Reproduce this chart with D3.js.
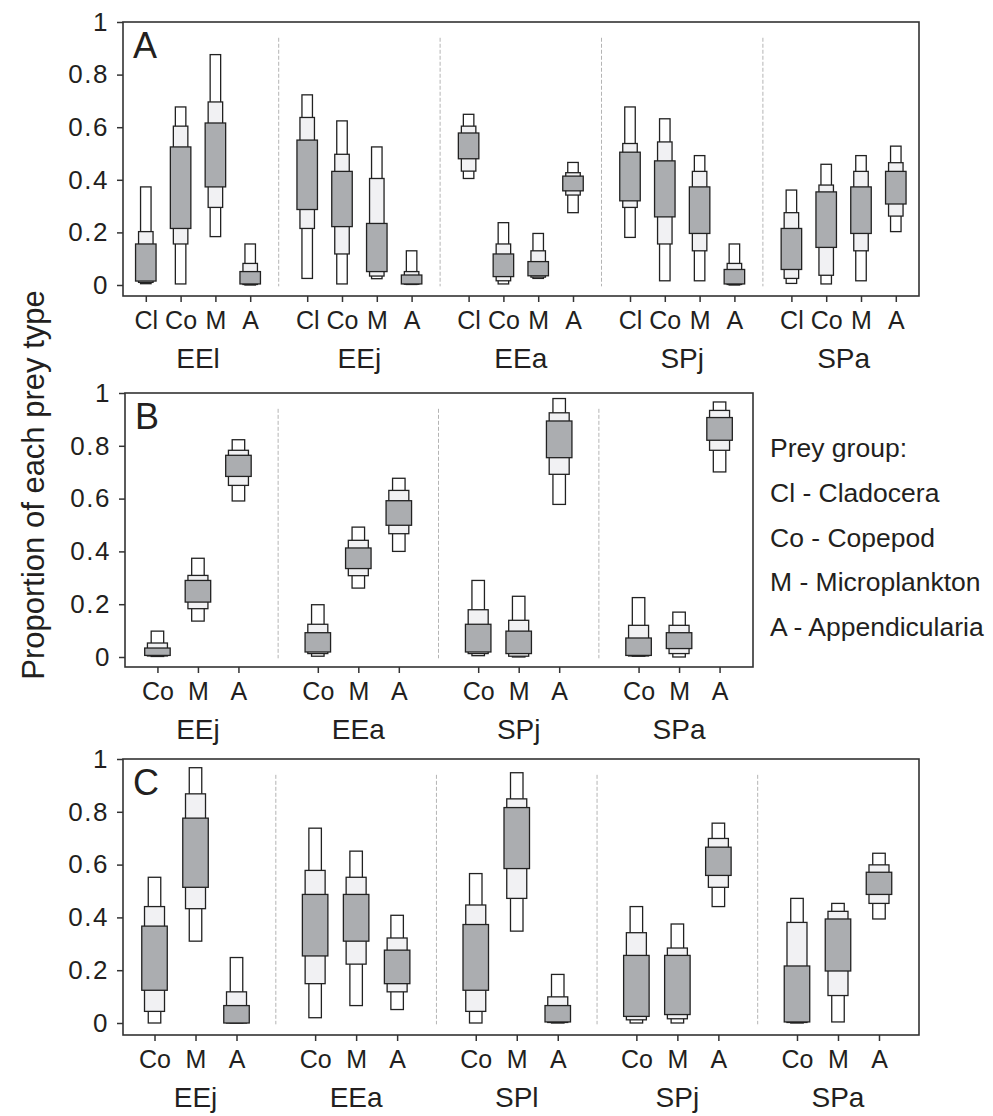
<!DOCTYPE html>
<html>
<head>
<meta charset="utf-8">
<script src="https://cdn.jsdelivr.net/npm/d3@7"></script>
<style>
    body { margin: 0; background: #fff; }
    text { font-family: "Liberation Sans", Arial, sans-serif; fill: #231f20; }
</style>
</head>
<body>
<div id="main-container"></div>
<script>
// DATA
const groupsA = ["EEl", "EEj", "EEa", "SPj", "SPa"];
const preyA = ["Cl", "Co", "M", "A"];
const groupsB = ["EEj", "EEa", "SPj", "SPa"];
const preyB = ["Co", "M", "A"];
const groupsC = ["EEj", "EEa", "SPl", "SPj", "SPa"];
const preyC = ["Co", "M", "A"];
const yTicks = [0, 0.2, 0.4, 0.6, 0.8, 1];
const legendLines = ["Prey group:", "Cl - Cladocera", "Co - Copepod", "M - Microplankton", "A - Appendicularia"];

// [group, prey, outer lo, mid lo, inner lo, inner hi, mid hi, outer hi]
const boxesA = [
    ["EEl", "Cl", 0.005, 0.01, 0.015, 0.156, 0.203, 0.373],
    ["EEl", "Co", 0.004, 0.156, 0.215, 0.525, 0.604, 0.677],
    ["EEl", "M", 0.184, 0.295, 0.373, 0.616, 0.696, 0.876],
    ["EEl", "A", 0.0, 0.002, 0.004, 0.051, 0.082, 0.156],
    ["EEj", "Cl", 0.025, 0.215, 0.287, 0.551, 0.637, 0.723],
    ["EEj", "Co", 0.004, 0.118, 0.222, 0.432, 0.497, 0.624],
    ["EEj", "M", 0.024, 0.034, 0.051, 0.234, 0.405, 0.525],
    ["EEj", "A", 0.002, 0.003, 0.004, 0.038, 0.051, 0.13],
    ["EEa", "Cl", 0.405, 0.433, 0.48, 0.578, 0.604, 0.649],
    ["EEa", "Co", 0.004, 0.016, 0.032, 0.118, 0.156, 0.237],
    ["EEa", "M", 0.025, 0.03, 0.035, 0.089, 0.13, 0.196],
    ["EEa", "A", 0.275, 0.342, 0.358, 0.414, 0.427, 0.466],
    ["SPj", "Cl", 0.181, 0.295, 0.32, 0.505, 0.538, 0.677],
    ["SPj", "Co", 0.016, 0.156, 0.259, 0.472, 0.544, 0.632],
    ["SPj", "M", 0.016, 0.13, 0.196, 0.373, 0.432, 0.492],
    ["SPj", "A", 0.0, 0.002, 0.004, 0.059, 0.082, 0.156],
    ["SPa", "Cl", 0.006, 0.025, 0.059, 0.215, 0.275, 0.361],
    ["SPa", "Co", 0.004, 0.037, 0.143, 0.354, 0.38, 0.459],
    ["SPa", "M", 0.016, 0.13, 0.196, 0.373, 0.432, 0.492],
    ["SPa", "A", 0.203, 0.262, 0.308, 0.432, 0.465, 0.528]
];

const boxesB = [
    ["EEj", "Co", 0.002, 0.004, 0.006, 0.034, 0.053, 0.098],
    ["EEj", "M", 0.136, 0.183, 0.208, 0.29, 0.309, 0.374],
    ["EEj", "A", 0.591, 0.65, 0.684, 0.764, 0.783, 0.823],
    ["EEa", "Co", 0.003, 0.013, 0.019, 0.092, 0.124, 0.198],
    ["EEa", "M", 0.261, 0.308, 0.335, 0.413, 0.442, 0.492],
    ["EEa", "A", 0.40, 0.467, 0.499, 0.592, 0.631, 0.677],
    ["SPj", "Co", 0.005, 0.013, 0.019, 0.124, 0.179, 0.29],
    ["SPj", "M", 0.0, 0.003, 0.013, 0.098, 0.139, 0.23],
    ["SPj", "A", 0.578, 0.692, 0.755, 0.894, 0.925, 0.979],
    ["SPa", "Co", 0.003, 0.004, 0.006, 0.072, 0.12, 0.225],
    ["SPa", "M", 0.0, 0.013, 0.032, 0.092, 0.12, 0.17],
    ["SPa", "A", 0.701, 0.783, 0.821, 0.907, 0.934, 0.966]
];

const boxesC = [
    ["EEj", "Co", 0.0, 0.044, 0.124, 0.367, 0.441, 0.552],
    ["EEj", "M", 0.31, 0.433, 0.514, 0.776, 0.868, 0.967],
    ["EEj", "A", 0.0, 0.0, 0.0, 0.066, 0.118, 0.248],
    ["EEa", "Co", 0.02, 0.149, 0.254, 0.487, 0.578, 0.738],
    ["EEa", "M", 0.066, 0.223, 0.31, 0.487, 0.552, 0.651],
    ["EEa", "A", 0.051, 0.118, 0.149, 0.276, 0.322, 0.408],
    ["SPl", "Co", 0.0, 0.044, 0.124, 0.373, 0.447, 0.566],
    ["SPl", "M", 0.348, 0.472, 0.585, 0.816, 0.849, 0.948],
    ["SPl", "A", 0.0, 0.002, 0.004, 0.066, 0.099, 0.184],
    ["SPj", "Co", 0.0, 0.012, 0.025, 0.256, 0.342, 0.441],
    ["SPj", "M", 0.0, 0.016, 0.032, 0.256, 0.284, 0.375],
    ["SPj", "A", 0.441, 0.514, 0.559, 0.666, 0.699, 0.757],
    ["SPa", "Co", 0.0, 0.002, 0.004, 0.216, 0.381, 0.472],
    ["SPa", "M", 0.004, 0.104, 0.197, 0.394, 0.423, 0.453],
    ["SPa", "A", 0.394, 0.453, 0.487, 0.571, 0.599, 0.643]
];

// LAYOUT
const panels = [
    {letter: "A", groups: groupsA, prey: preyA, boxes: boxesA,
        left: 123, right: 919, top: 22, zero: 285, bottom: 296,
        band: [117.3, 924.3], step: 34.8, widths: [10.5, 14.5, 20.5]},
    {letter: "B", groups: groupsB, prey: preyB, boxes: boxesB,
        left: 125, right: 753, top: 393, zero: 657, bottom: 667,
        band: [117.75, 759.25], step: 40.5, widths: [12.5, 20, 25.5]},
    {letter: "C", groups: groupsC, prey: preyC, boxes: boxesC,
        left: 123, right: 919, top: 759, zero: 1023, bottom: 1035,
        band: [115.2, 918.3], step: 41, widths: [12.5, 20, 25.5]}
];

const fills = ["#ffffff", "#f1f1f3", "#abadb0"];

const svg = d3.select("#main-container").append("svg")
    .attr("width", 993)
    .attr("height", 1116);

function drawPanel(p) {
    const g = svg.append("g");

    const y = d3.scaleLinear().domain([0, 1]).range([p.zero, p.top]);
    const xg = d3.scaleBand().domain(p.groups).range(p.band);
    const half = (p.prey.length - 1) / 2 * p.step;
    const xi = d3.scalePoint().domain(p.prey).range([-half, half]);
    const xPos = (grp, k) => xg(grp) + xg.bandwidth() / 2 + xi(k);

    // dashed dividers between groups
    g.selectAll(".divider")
        .data(p.groups.slice(1))
        .enter().append("line")
        .attr("class", "divider")
        .attr("x1", d => xg(d))
        .attr("x2", d => xg(d))
        .attr("y1", y(0.94))
        .attr("y2", y(-0.005))
        .style("stroke", "#b4b4b4")
        .style("stroke-width", 1)
        .style("stroke-dasharray", "4,2");

    // boxes: outer, middle, inner
    const layers = [[2, 7], [3, 6], [4, 5]];
    layers.forEach((idx, li) => {
        g.selectAll(".layer" + li)
            .data(p.boxes)
            .enter().append("rect")
            .attr("class", "layer" + li)
            .attr("x", d => xPos(d[0], d[1]) - p.widths[li] / 2)
            .attr("width", p.widths[li])
            .attr("y", d => y(d[idx[1]]))
            .attr("height", d => Math.max(0.5, y(d[idx[0]]) - y(d[idx[1]])))
            .style("fill", fills[li])
            .style("stroke", "#222")
            .style("stroke-width", 1.3);
    });

    // frame
    g.append("rect")
        .attr("x", p.left)
        .attr("y", p.top)
        .attr("width", p.right - p.left)
        .attr("height", p.bottom - p.top)
        .style("fill", "none")
        .style("stroke", "#333")
        .style("stroke-width", 1.6);

    // y axis
    const yAxis = g.append("g")
        .attr("transform", `translate(${p.left},0)`)
        .call(d3.axisLeft(y).tickValues(yTicks).tickFormat(d => String(d)).tickSize(6).tickPadding(8));
    yAxis.select(".domain").remove();
    yAxis.selectAll("line").style("stroke", "#333").style("stroke-width", 1.5);
    yAxis.selectAll("text")
        .style("font-size", "26px")
        .style("letter-spacing", "1.5px")
        .style("font-family", "'Liberation Sans', Arial, sans-serif")
        .style("fill", "#231f20");

    // x axis, one tick per prey type in each group
    const keys = [];
    p.groups.forEach(grp => p.prey.forEach(k => keys.push(grp + "|" + k)));
    const xKey = d3.scaleOrdinal()
        .domain(keys)
        .range(keys.map(s => xPos(s.split("|")[0], s.split("|")[1])));
    const xAxis = g.append("g")
        .attr("transform", `translate(0,${p.bottom})`)
        .call(d3.axisBottom(xKey).tickFormat(s => s.split("|")[1]).tickSize(6).tickPadding(9));
    xAxis.select(".domain").remove();
    xAxis.selectAll("line").style("stroke", "#333").style("stroke-width", 1.5);
    xAxis.selectAll("text")
        .style("font-size", "25px")
        .style("font-family", "'Liberation Sans', Arial, sans-serif")
        .style("fill", "#231f20");

    // group labels
    g.selectAll(".grp-label")
        .data(p.groups)
        .enter().append("text")
        .attr("class", "grp-label")
        .attr("x", d => xg(d) + xg.bandwidth() / 2)
        .attr("y", p.bottom + 72)
        .attr("text-anchor", "middle")
        .style("font-size", "28px")
        .text(d => d);

    // panel letter
    g.append("text")
        .attr("x", p.left + 10)
        .attr("y", p.top + 36)
        .style("font-size", "36px")
        .text(p.letter);
}

panels.forEach(drawPanel);

// y title
svg.append("text")
    .attr("transform", "translate(44,485) rotate(-90)")
    .attr("text-anchor", "middle")
    .style("font-size", "31px")
    .text("Proportion of each prey type");

// legend
svg.selectAll(".legend")
    .data(legendLines)
    .enter().append("text")
    .attr("class", "legend")
    .attr("x", 770)
    .attr("y", (d, i) => 457 + i * 44.8)
    .style("font-size", "26.5px")
    .text(d => d);
</script>
</body>
</html>
